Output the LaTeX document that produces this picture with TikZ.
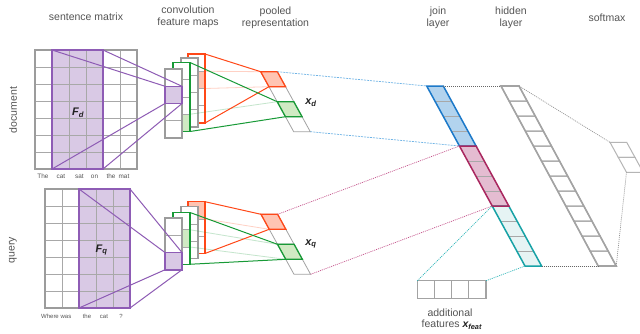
\documentclass[tikz,border=0pt]{standalone}
\usepackage{fontspec}
\setmainfont{Liberation Sans}
\definecolor{txt}{HTML}{555555}
\definecolor{lbl}{HTML}{222222}
\definecolor{gridgray}{HTML}{A8A8A8}
\definecolor{bordergray}{HTML}{9C9C9C}
\definecolor{purpc}{HTML}{8E5CB5}
\definecolor{purpfill}{HTML}{D9C9E5}
\definecolor{redc}{HTML}{FF4818}
\definecolor{redfill}{HTML}{FFC4B2}
\definecolor{greenc}{HTML}{189A37}
\definecolor{greenfill}{HTML}{D0EAC3}
\definecolor{bluec}{HTML}{1C79C9}
\definecolor{bluefill}{HTML}{B2D3EE}
\definecolor{bluedash}{HTML}{70B4E6}
\definecolor{pinkc}{HTML}{A9275F}
\definecolor{pinkfill}{HTML}{E4BCD1}
\definecolor{pinkdot}{HTML}{C4518A}
\definecolor{tealc}{HTML}{17A2A6}
\definecolor{tealfill}{HTML}{E6F4F4}
\definecolor{tealdot}{HTML}{2BB5B8}
\definecolor{hidgray}{HTML}{A3A3A3}
\definecolor{dotgray}{HTML}{666666}
% slanted block: x0,y0,w,h,s,k1,k2,style
\newcommand{\slb}[8]{%
  \path[#8] ({#1+#5*#4*(#6)},{#2+#4*(#6)}) -- ++(#3,0) -- ++({#5*#4*((#7)-(#6))},{#4*((#7)-(#6))}) -- ++({-#3},0) -- cycle;}
% feature map column: x,y,ncells,border style,fill cell,fill colour,inner list
\newcommand{\fmap}[7]{%
  \fill[white] (#1,#2) rectangle ({#1+17},{#2+17.25*#3});
  \fill[#6] (#1,{#2+17.25*#5}) rectangle ({#1+17},{#2+17.25*(#5+1)});
  \foreach \k in {#7} \draw[innerln] (#1,{#2+17.25*\k}) -- ({#1+17},{#2+17.25*\k});
  \draw[#4] (#1,#2) rectangle ({#1+17},{#2+17.25*#3});}
\begin{document}
\begin{tikzpicture}[x=1pt,y=-1pt,
  hdr/.style={text=txt, font=\fontsize{10.5}{12}\selectfont, align=center, inner sep=0pt},
  wrd/.style={text=txt, font=\fontsize{6.4}{7}\selectfont, inner sep=0pt},
  wrdq/.style={text=txt, font=\fontsize{6}{7}\selectfont, inner sep=0pt},
  flbl/.style={text=lbl, font=\fontsize{11}{12}\selectfont\bfseries\itshape, inner sep=0pt},
  gridln/.style={draw=gridgray, line width=0.8pt},
  innerln/.style={draw=gridgray, line width=0.7pt},
  gridbd/.style={draw=bordergray, line width=1.5pt},
  purpbd/.style={draw=purpc, line width=1.5pt},
  purpln/.style={draw=purpc, line width=1pt},
  grayfm/.style={draw=bordergray, line width=1.5pt},
  redfm/.style={draw=redc, line width=1.5pt},
  greenfm/.style={draw=greenc, line width=1.5pt},
  redln/.style={draw=redc, line width=1pt},
  greenln/.style={draw=greenc, line width=1pt},
  redlt/.style={draw=redc, line width=0.8pt, draw opacity=0.25},
  greenlt/.style={draw=greenc, line width=0.8pt, draw opacity=0.25},
  blueln/.style={draw=bluedash, line width=0.7pt, dash pattern=on 2pt off 1pt},
  pinkln/.style={draw=pinkdot, line width=0.7pt, dash pattern=on 1pt off 1pt},
  tealln/.style={draw=tealdot, line width=0.7pt, dash pattern=on 1pt off 1pt},
  grayln/.style={draw=dotgray, line width=0.7pt, dash pattern=on 1pt off 1pt},
]
\clip (0,0) rectangle (640,333);
\fill[white] (0,0) rectangle (640,333);

% ---------------- headers ----------------
\node[hdr] (hSent) at (86,17) {sentence matrix};
\node[hdr] (hConv) at (188,16.5) {convolution\\feature maps};
\node[hdr] (hPool) at (275.5,17.8) {pooled\\representation};
\node[hdr] (hJoin) at (438,17.5) {join\\layer};
\node[hdr] (hHid) at (511,17.5) {hidden\\layer};
\node[hdr] (hSoft) at (607,17.3) {softmax};
\node[hdr, rotate=90] (lDoc) at (13,110) {document};
\node[hdr, rotate=90] (lQry) at (13,250) {query};

% ---------------- document sentence matrix ----------------
\fill[purpfill] (52,50) rectangle (103,169);
\foreach \i in {1,...,5} \draw[gridln] ({35+17*\i},50) -- ({35+17*\i},169);
\foreach \j in {1,...,6} \draw[gridln] (35,{50+17*\j}) -- (137,{50+17*\j});
\draw[gridbd] (35,50) rectangle (137,169);
\draw[purpbd] (52,50) rectangle (103,169);
\coordinate (dTL) at (52,50); \coordinate (dTR) at (103,50);
\coordinate (dBL) at (52,169); \coordinate (dBR) at (103,169);
\node[flbl] (Fd) at (78,113) {F\textsubscript{d}};
\node[wrd] (w1) at (43,176.7) {The};
\node[wrd] (w2) at (61,176.7) {cat};
\node[wrd] (w3) at (79.5,176.7) {sat};
\node[wrd] (w4) at (94.5,176.7) {on};
\node[wrd] (w5) at (111,176.7) {the};
\node[wrd] (w6) at (124,176.7) {mat};

% ---------------- query sentence matrix ----------------
\fill[purpfill] (79,189) rectangle (130,308);
\foreach \i in {1,...,4} \draw[gridln] ({45+17*\i},189) -- ({45+17*\i},308);
\foreach \j in {1,...,6} \draw[gridln] (45,{189+17*\j}) -- (130,{189+17*\j});
\draw[gridbd] (45,189) rectangle (130,308);
\draw[purpbd] (79,189) rectangle (130,308);
\coordinate (qTL) at (79,189); \coordinate (qTR) at (130,189);
\coordinate (qBL) at (79,308); \coordinate (qBR) at (130,308);
\node[flbl] (Fq) at (101.5,250) {F\textsubscript{q}};
\node[wrdq] (v1) at (50,316.7) {Where};
\node[wrdq] (v2) at (66,316.7) {was};
\node[wrdq] (v3) at (87,316.7) {the};
\node[wrdq] (v4) at (104,316.7) {cat};
\node[wrdq] (v5) at (121,316.7) {?};

% ---------------- document feature maps ----------------
\fmap{188}{54}{4}{redfm}{1}{redfill}{1,2,3}
\fmap{181}{58}{4}{grayfm}{0}{white}{1,2,3}
\fmap{173}{62.5}{4}{greenfm}{3}{greenfill}{1,2,3}
\fmap{165}{69}{4}{grayfm}{1}{purpfill}{1,2,3}
\draw[purpbd] (165,86.25) rectangle (182,103.5);
\coordinate (dcTL) at (165,86.25); \coordinate (dcTR) at (182,86.25);
\coordinate (dcBL) at (165,103.5); \coordinate (dcBR) at (182,103.5);
\draw[purpln] (dTL) -- (dcTL); \draw[purpln] (dTR) -- (dcTR);
\draw[purpln] (dBL) -- (dcBL); \draw[purpln] (dBR) -- (dcBR);

% ---------------- query feature maps ----------------
\fmap{188}{201.7}{3}{redfm}{0}{redfill}{1,2}
\fmap{181}{206.7}{3}{grayfm}{0}{white}{1,2}
\fmap{173}{212.5}{3}{greenfm}{1}{greenfill}{1,2}
\fmap{165}{218}{3}{grayfm}{2}{purpfill}{1,2}
\draw[purpbd] (165,252.5) rectangle (182,269.75);
\coordinate (qcTL) at (165,252.5); \coordinate (qcTR) at (182,252.5);
\coordinate (qcBL) at (165,269.75); \coordinate (qcBR) at (182,269.75);
\draw[purpln] (qTL) -- (qcTL); \draw[purpln] (qTR) -- (qcTR);
\draw[purpln] (qBL) -- (qcBL); \draw[purpln] (qBR) -- (qcBR);

% ---------------- pooled representation (document) ----------------
\foreach \k in {0,...,3} \slb{260.7}{71.7}{16.6}{15}{0.55}{\k}{\k+1}{draw=hidgray, line width=0.8pt, fill=white};
\slb{260.7}{71.7}{16.6}{15}{0.55}{0}{1}{fill=redfill, draw=redc, line width=1.3pt};
\slb{260.7}{71.7}{16.6}{15}{0.55}{2}{3}{fill=greenfill, draw=greenc, line width=1.3pt};
\coordinate (pdRTL) at (260.7,71.7); \coordinate (pdRBL) at (268.95,86.7);
\coordinate (pdGTL) at (277.2,101.7); \coordinate (pdGBL) at (285.45,116.7);
\coordinate (pdTR) at (277.3,71.7); \coordinate (pdBR) at (310.3,131.7);
\node[flbl] (xd) at (311,103) {x\textsubscript{d}};

% ---------------- pooled representation (query) ----------------
\foreach \k in {0,...,3} \slb{261}{214.3}{16.6}{15}{0.55}{\k}{\k+1}{draw=hidgray, line width=0.8pt, fill=white};
\slb{261}{214.3}{16.6}{15}{0.55}{0}{1}{fill=redfill, draw=redc, line width=1.3pt};
\slb{261}{214.3}{16.6}{15}{0.55}{2}{3}{fill=greenfill, draw=greenc, line width=1.3pt};
\coordinate (pqRTL) at (261,214.3); \coordinate (pqRBL) at (269.25,229.3);
\coordinate (pqGTL) at (277.5,244.3); \coordinate (pqGBL) at (285.75,259.3);
\coordinate (pqTR) at (277.6,214.3); \coordinate (pqBR) at (310.6,274.3);
\node[flbl] (xq) at (311,244) {x\textsubscript{q}};

% ---------------- feature map -> pooled connectors ----------------
\coordinate (dRedTR) at (205,54); \coordinate (dRedBR) at (205,123);
\coordinate (dRedFT) at (205,71.25); \coordinate (dRedFB) at (205,88.5);
\coordinate (dGrnTR) at (190,62.5); \coordinate (dGrnBR) at (190,131.5);
\coordinate (dGrnFT) at (190,114.25);
\draw[redlt] (dRedFT) -- (pdRTL); \draw[redlt] (dRedFB) -- (pdRBL);
\draw[greenlt] (dGrnFT) -- (pdGTL);
\draw[redln] (dRedTR) -- (pdRTL); \draw[redln] (dRedBR) -- (pdRBL);
\draw[greenln] (dGrnTR) -- (pdGTL); \draw[greenln] (dGrnBR) -- (pdGBL);

\coordinate (qRedTR) at (205,201.7); \coordinate (qRedBR) at (205,253.45);
\coordinate (qRedFB) at (205,218.95);
\coordinate (qGrnTR) at (190,212.5); \coordinate (qGrnBR) at (190,264.25);
\coordinate (qGrnFT) at (190,229.75); \coordinate (qGrnFB) at (190,247);
\draw[redlt] (qRedFB) -- (pqRBL);
\draw[greenlt] (qGrnFT) -- (pqGTL); \draw[greenlt] (qGrnFB) -- (pqGBL);
\draw[redln] (qRedTR) -- (pqRTL); \draw[redln] (qRedBR) -- (pqRBL);
\draw[greenln] (qGrnTR) -- (pqGTL); \draw[greenln] (qGrnBR) -- (pqGBL);

% ---------------- join layer ----------------
\slb{426.7}{86}{16.6}{15}{0.546}{0}{4}{fill=bluefill};
\slb{426.7}{86}{16.6}{15}{0.546}{4}{8}{fill=pinkfill};
\slb{426.7}{86}{16.6}{15}{0.546}{8}{12}{fill=tealfill};
\foreach \k in {1,2,3,5,6,7,9,10,11} \draw[innerln] ({426.7+0.546*15*\k},{86+15*\k}) -- ++(16.6,0);
\slb{426.7}{86}{16.6}{15}{0.546}{0}{4}{draw=bluec, line width=1.5pt};
\slb{426.7}{86}{16.6}{15}{0.546}{8}{12}{draw=tealc, line width=1.5pt};
\slb{426.7}{86}{16.6}{15}{0.546}{4}{8}{draw=pinkc, line width=1.5pt};
\coordinate (jTL) at (426.7,86); \coordinate (jTR) at (443.3,86);
\coordinate (jBBL) at (459.46,146); \coordinate (jPBL) at (492.22,206);
\coordinate (jBL) at (524.98,266); \coordinate (jBR) at (541.58,266);

% ---------------- hidden layer ----------------
\foreach \k in {0,...,11} \slb{501}{86}{18}{15}{0.54}{\k}{\k+1}{draw=hidgray, line width=1pt};
\slb{501}{86}{18}{15}{0.54}{0}{12}{draw=hidgray, line width=1.6pt};
\coordinate (hTL) at (501,86); \coordinate (hTR) at (519,86);
\coordinate (hBL) at (598.2,266); \coordinate (hBR) at (616.2,266);

% ---------------- softmax ----------------
\foreach \k in {0,1} \slb{610}{142.3}{16.7}{15}{0.55}{\k}{\k+1}{draw=hidgray!80, line width=1pt};
\coordinate (sTL) at (610,142.3); \coordinate (sBL) at (626.5,172.3);

% ---------------- additional features ----------------
\foreach \k in {0,...,3} \draw[draw=hidgray, line width=0.9pt] ({417.3+17.2*\k},280.7) rectangle ({417.3+17.2*(\k+1)},298.3);
\draw[draw=hidgray, line width=1.5pt] (417.3,280.7) rectangle (486.1,298.3);
\coordinate (aTL) at (417.3,280.7); \coordinate (aTR) at (486.1,280.7);
\node[hdr] (lAdd) at (450,312.7) {additional};
\node[hdr, anchor=west] (lFeat) at (421.5,325) {features \textcolor{lbl}{\bfseries\itshape x\textsubscript{feat}}};

% ---------------- layer connectors ----------------
\draw[blueln] (pdTR) -- (jTL); \draw[blueln] (pdBR) -- (jBBL);
\draw[pinkln] (pqTR) -- (jBBL); \draw[pinkln] (pqBR) -- (jPBL);
\draw[tealln] (aTL) -- (jPBL); \draw[tealln] (aTR) -- (jBL);
\draw[grayln] (jTR) -- (hTL); \draw[grayln] (jBR) -- (hBL);
\draw[grayln, draw=dotgray!70] (hTR) -- (sTL); \draw[grayln, draw=dotgray!70] (hBR) -- (sBL);
\end{tikzpicture}
\end{document}
